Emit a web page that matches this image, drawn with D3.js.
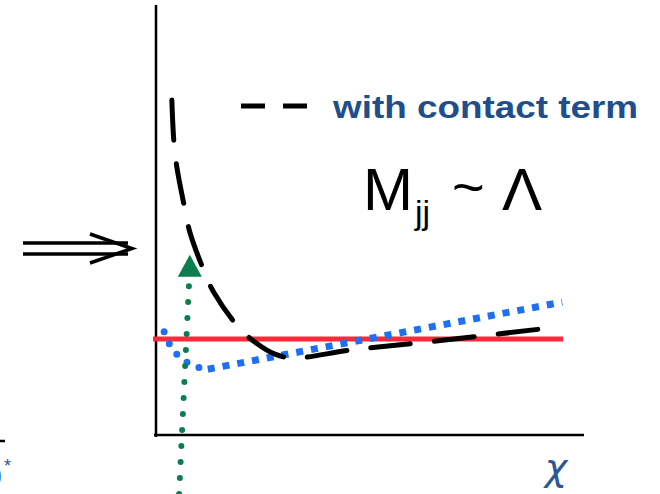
<!DOCTYPE html>
<html lang="en">
<head>
<meta charset="UTF-8">
<title>Mjj ~ Lambda</title>
<script src="https://d3js.org/d3.v7.min.js"></script>
<style>
  body { margin: 0; background: #fff; }
  svg { display: block; }
</style>
</head>
<body>
<div id="chart"></div>
<script>
// schematic curves, in chi / arbitrary units
var contactX = [0.37, 0.42, 0.49, 0.68, 0.79, 1.14, 1.36, 1.94, 2.34, 2.78, 3.20, 4.58, 6.59, 9.21];
var contactY = [7.79, 6.79, 6.21, 5.23, 4.72, 3.77, 3.30, 2.49, 2.14, 1.88, 1.79, 1.98, 2.19, 2.49];

var flatX = [-0.07, 9.51];
var flatY = [2.23, 2.23];

var blueHeadX = [0.19, 0.35, 0.58, 0.91, 1.21];
var blueHeadY = [2.40, 2.05, 1.79, 1.60, 1.53];
var blueTailX = [1.21, 9.49];
var blueTailY = [1.53, 3.09];

var cutX = [0.54, 0.77];
var cutY = [-1.37, 3.49];
var arrowTip = {x: 0.79, y: 4.19};

var legendLabel = "with contact term";

var W = 660, H = 494;
var svg = d3.select("#chart").append("svg")
    .attr("width", W)
    .attr("height", H);

var x = d3.scaleLinear().domain([0, 10]).range([156, 584]);
var y = d3.scaleLinear().domain([0, 10]).range([435, 5]);

function pts(xs, ys) {
    return xs.map(function(v, i) { return [v, ys[i]]; });
}
var line = d3.line()
    .x(function(d) { return x(d[0]); })
    .y(function(d) { return y(d[1]); });

// axes (no ticks)
svg.append("line")
    .attr("x1", x(0)).attr("x2", x(0))
    .attr("y1", y(10)).attr("y2", y(0) + 2)
    .attr("stroke", "#000").attr("stroke-width", 2.5);
svg.append("line")
    .attr("x1", x(0) - 2).attr("x2", x(10))
    .attr("y1", y(0)).attr("y2", y(0))
    .attr("stroke", "#000").attr("stroke-width", 2.5);

// red flat line
svg.append("path")
    .attr("d", line(pts(flatX, flatY)))
    .attr("stroke", "#fa2a3a").attr("stroke-width", 5)
    .attr("fill", "none");

// blue dotted
svg.append("path")
    .attr("d", line.curve(d3.curveCatmullRom)(pts(blueHeadX, blueHeadY)))
    .attr("stroke", "#1f6ff2").attr("stroke-width", 7)
    .attr("stroke-linecap", "round")
    .attr("stroke-dasharray", "0,13")
    .attr("fill", "none");
svg.append("path")
    .attr("d", line.curve(d3.curveLinear)(pts(blueTailX, blueTailY)))
    .attr("stroke", "#1f6ff2").attr("stroke-width", 7)
    .attr("stroke-dasharray", "7,8")
    .attr("fill", "none");

// green dotted cut with arrow head
svg.append("path")
    .attr("d", line(pts(cutX, cutY)))
    .attr("stroke", "#0b7d4f").attr("stroke-width", 6)
    .attr("stroke-linecap", "round")
    .attr("stroke-dasharray", "0,16")
    .attr("fill", "none");
svg.append("path")
    .attr("d", "M" + x(arrowTip.x) + "," + y(arrowTip.y) +
               "L" + (x(arrowTip.x) + 12) + "," + (y(arrowTip.y) + 22) +
               "L" + (x(arrowTip.x) - 12) + "," + (y(arrowTip.y) + 22) + "Z")
    .attr("fill", "#0b7d4f");

// black dashed contact term curve
svg.append("path")
    .attr("d", line.curve(d3.curveCatmullRom)(pts(contactX, contactY)))
    .attr("stroke", "#000").attr("stroke-width", 5)
    .attr("stroke-linecap", "round")
    .attr("stroke-dasharray", "40,24")
    .attr("fill", "none");

// legend
svg.append("line")
    .attr("x1", 241).attr("x2", 309).attr("y1", 106).attr("y2", 106)
    .attr("stroke", "#000").attr("stroke-width", 5)
    .attr("stroke-dasharray", "24,18");
svg.append("text")
    .attr("x", 333).attr("y", 118)
    .attr("font-family", "Liberation Sans, Arial, sans-serif")
    .attr("font-weight", "bold")
    .attr("font-size", 32)
    .attr("textLength", 305)
    .attr("lengthAdjust", "spacingAndGlyphs")
    .attr("fill", "#1f4e8c")
    .text(legendLabel);

// M_jj ~ Lambda
var lab = svg.append("g")
    .attr("font-family", "Liberation Sans, Arial, sans-serif")
    .attr("fill", "#000");
lab.append("text").attr("x", 363).attr("y", 210).attr("font-size", 60).text("M");
lab.append("text").attr("x", 415).attr("y", 224).attr("font-size", 34).text("jj");
lab.append("text").attr("x", 452).attr("y", 206).attr("font-size", 56).text("~");
lab.append("text").attr("x", 502).attr("y", 210).attr("font-size", 60).text("\u039B");

// double arrow on the left
svg.append("g")
    .attr("stroke", "#000").attr("stroke-width", 3.5).attr("fill", "none")
    .call(function(g) {
        g.append("line").attr("x1", 23).attr("x2", 128).attr("y1", 243).attr("y2", 243);
        g.append("line").attr("x1", 23).attr("x2", 128).attr("y1", 254).attr("y2", 254);
        g.append("path").attr("d", "M90,234L132,248.5L90,263");
    });

// clipped label fragments at the bottom left
svg.append("line")
    .attr("x1", -4).attr("x2", 5).attr("y1", 441).attr("y2", 441)
    .attr("stroke", "#000").attr("stroke-width", 2.5);
svg.append("text")
    .attr("x", 2).attr("y", 486)
    .attr("text-anchor", "end")
    .attr("font-family", "Liberation Sans, Arial, sans-serif")
    .attr("font-size", 26)
    .attr("fill", "#2b5797")
    .text("\u03B8");
svg.append("text")
    .attr("x", 4).attr("y", 472)
    .attr("font-family", "Liberation Sans, Arial, sans-serif")
    .attr("font-size", 18)
    .attr("fill", "#2b5797")
    .text("*");

// chi axis label
svg.append("text")
    .attr("x", 556).attr("y", 480)
    .attr("text-anchor", "middle")
    .attr("font-family", "DejaVu Sans, sans-serif")
    .attr("font-style", "italic")
    .attr("font-size", 38)
    .attr("fill", "#2b5797")
    .text("\u03C7");
</script>
</body>
</html>
